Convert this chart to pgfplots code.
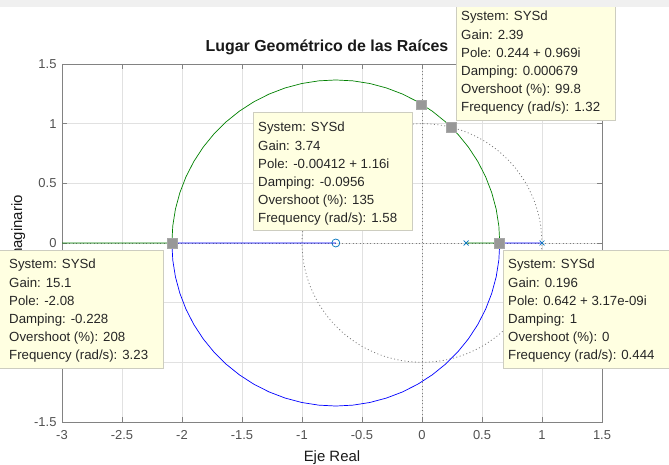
\documentclass[border=0pt]{standalone}
\usepackage{fontspec}
\setmainfont{Liberation Sans}
\usepackage{pgfplots}
\pgfplotsset{compat=1.18}

\definecolor{locblue}{RGB}{0,0,255}
\definecolor{locgreen}{RGB}{0,128,0}
\definecolor{mkblue}{RGB}{0,114,189}
\definecolor{axgray}{RGB}{130,130,130}
\definecolor{gridgray}{RGB}{225,225,225}
\definecolor{dotgray}{RGB}{125,125,125}
\definecolor{ticktext}{RGB}{80,80,80}
\definecolor{tipfill}{RGB}{255,255,225}
\definecolor{tipedge}{RGB}{205,205,192}
\definecolor{tipmark}{RGB}{152,152,152}
\definecolor{band}{RGB}{240,240,240}

\newcommand\tipfont{\fontsize{13.3}{18.2}\selectfont}
% data-tip box: left, bottom, right, top, text x, first baseline, text
\newcommand\tipbox[7]{%
  \filldraw[fill=tipfill, draw=tipedge, line width=0.8bp] (#1bp,#2bp) rectangle (#3bp,#4bp);
  \node[anchor=base west, inner sep=0pt, font=\tipfont, text=black!85] at (#5bp,#6bp)
    {\begin{tabular}[t]{@{}l@{}}#7\end{tabular}};%
}

\begin{document}
\begin{tikzpicture}
\path[use as bounding box] (0,0) rectangle (669bp,465bp);
\clip (0,0) rectangle (669bp,465bp);

\begin{axis}[
  at={(62bp,43bp)}, anchor=south west,
  scale only axis, width=540bp, height=358bp,
  xmin=-3, xmax=1.5, ymin=-1.5, ymax=1.5,
  xtick={-3,-2.5,-2,-1.5,-1,-0.5,0,0.5,1,1.5},
  ytick={-1.5,-1,-0.5,0,0.5,1,1.5},
  grid=major,
  major grid style={gridgray, line width=0.5bp},
  axis line style={axgray, line width=0.8bp},
  tick style={axgray, line width=0.6bp},
  major tick length=5bp, tick align=inside,
  /pgf/number format/assume math mode=true,
  ticklabel style={font=\fontsize{13}{15}\selectfont, text=ticktext},
  xticklabel style={yshift=-5bp},
  yticklabel style={xshift=-2bp},
]
% real and imaginary axes
\addplot[dotgray, line width=0.8bp, dash pattern=on 1bp off 2.5bp] coordinates {(0,-1.5)(0,1.5)};
\addplot[dotgray, line width=0.8bp, dash pattern=on 1bp off 2.5bp] coordinates {(-3,0)(1.5,0)};
% unit circle
\addplot[dotgray, line width=0.8bp, dash pattern=on 1bp off 2.5bp, smooth] coordinates {
(1,0)(0.9848,0.1736)(0.9397,0.3420)(0.8660,0.5)(0.7660,0.6428)(0.6428,0.7660)(0.5,0.8660)
(0.3420,0.9397)(0.1736,0.9848)(0,1)(-0.1736,0.9848)(-0.3420,0.9397)(-0.5,0.8660)
(-0.6428,0.7660)(-0.7660,0.6428)(-0.8660,0.5)(-0.9397,0.3420)(-0.9848,0.1736)(-1,0)
(-0.9848,-0.1736)(-0.9397,-0.3420)(-0.8660,-0.5)(-0.7660,-0.6428)(-0.6428,-0.7660)
(-0.5,-0.8660)(-0.3420,-0.9397)(-0.1736,-0.9848)(0,-1)(0.1736,-0.9848)(0.3420,-0.9397)
(0.5,-0.8660)(0.6428,-0.7660)(0.7660,-0.6428)(0.8660,-0.5)(0.9397,-0.3420)(0.9848,-0.1736)(1,0)};
% branch 1
\addplot[locgreen, line width=0.7bp] coordinates {
(0.3679,0)(0.6479,0)(0.6404,0.1428)(0.6181,0.2841)(0.5810,0.4222)(0.5298,0.5557)(0.4649,0.6831)
(0.3870,0.8030)(0.2970,0.9142)(0.1959,1.0153)(0.0847,1.1053)(-0.0352,1.1832)(-0.1626,1.2481)
(-0.2961,1.2993)(-0.4343,1.3364)(-0.5755,1.3587)(-0.7183,1.3662)(-0.8611,1.3587)(-1.0024,1.3364)
(-1.1405,1.2993)(-1.2740,1.2481)(-1.4014,1.1832)(-1.5213,1.1053)(-1.6325,1.0153)(-1.7336,0.9142)
(-1.8236,0.8030)(-1.9015,0.6831)(-1.9664,0.5557)(-2.0176,0.4222)(-2.0547,0.2841)(-2.0770,0.1428)
(-2.0845,0)(-3,0)};
% branch 2
\addplot[locblue, line width=0.7bp] coordinates {
(1,0)(0.6479,0)(0.6404,-0.1428)(0.6181,-0.2841)(0.5810,-0.4222)(0.5298,-0.5557)(0.4649,-0.6831)
(0.3870,-0.8030)(0.2970,-0.9142)(0.1959,-1.0153)(0.0847,-1.1053)(-0.0352,-1.1832)(-0.1626,-1.2481)
(-0.2961,-1.2993)(-0.4343,-1.3364)(-0.5755,-1.3587)(-0.7183,-1.3662)(-0.8611,-1.3587)(-1.0024,-1.3364)
(-1.1405,-1.2993)(-1.2740,-1.2481)(-1.4014,-1.1832)(-1.5213,-1.1053)(-1.6325,-1.0153)(-1.7336,-0.9142)
(-1.8236,-0.8030)(-1.9015,-0.6831)(-1.9664,-0.5557)(-2.0176,-0.4222)(-2.0547,-0.2841)(-2.0770,-0.1428)
(-2.0845,0)(-0.7183,0)};
% open-loop poles and zero
\addplot[only marks, mark=x, mkblue, mark size=3.5bp, line width=0.7bp] coordinates {(0.3679,0)(1,0)};
\addplot[only marks, mark=o, mkblue, mark size=4bp, line width=0.7bp] coordinates {(-0.7183,0)};
% selected points
\addplot[only marks, mark=square*, mark size=4.8bp, mark options={fill=tipmark, draw=tipmark!85!white, line width=0.5bp}]
  coordinates {(0.642,0)(-2.08,0)(-0.00412,1.16)(0.244,0.969)};
\end{axis}

\node[anchor=base, font=\bfseries\fontsize{16}{19}\selectfont, text=black!90] at (327bp,413bp)
  {Lugar Geométrico de las Raíces};
\node[anchor=base, font=\fontsize{15}{18}\selectfont, text=black!90] at (332bp,4bp) {Eje Real};
\node[anchor=base, rotate=90, font=\fontsize{15}{18}\selectfont, text=black!90] at (22bp,222bp) {Eje Imaginario};

\tipbox{456}{345}{615}{475}{461}{444}{System: SYSd\\Gain: 2.39\\Pole: 0.244 + 0.969i\\Damping: 0.000679\\Overshoot (\%): 99.8\\Frequency (rad/s): 1.32}
\tipbox{253}{235}{412}{353}{258}{333}{System: SYSd\\Gain: 3.74\\Pole: -0.00412 + 1.16i\\Damping: -0.0956\\Overshoot (\%): 135\\Frequency (rad/s): 1.58}
\tipbox{-5}{97}{163}{215}{9}{196}{System: SYSd\\Gain: 15.1\\Pole: -2.08\\Damping: -0.228\\Overshoot (\%): 208\\Frequency (rad/s): 3.23}
\tipbox{503}{97}{680}{215}{508}{196}{System: SYSd\\Gain: 0.196\\Pole: 0.642 + 3.17e-09i\\Damping: 1\\Overshoot (\%): 0\\Frequency (rad/s): 0.444}

\fill[band] (0,458bp) rectangle (669bp,465bp);
\end{tikzpicture}
\end{document}
